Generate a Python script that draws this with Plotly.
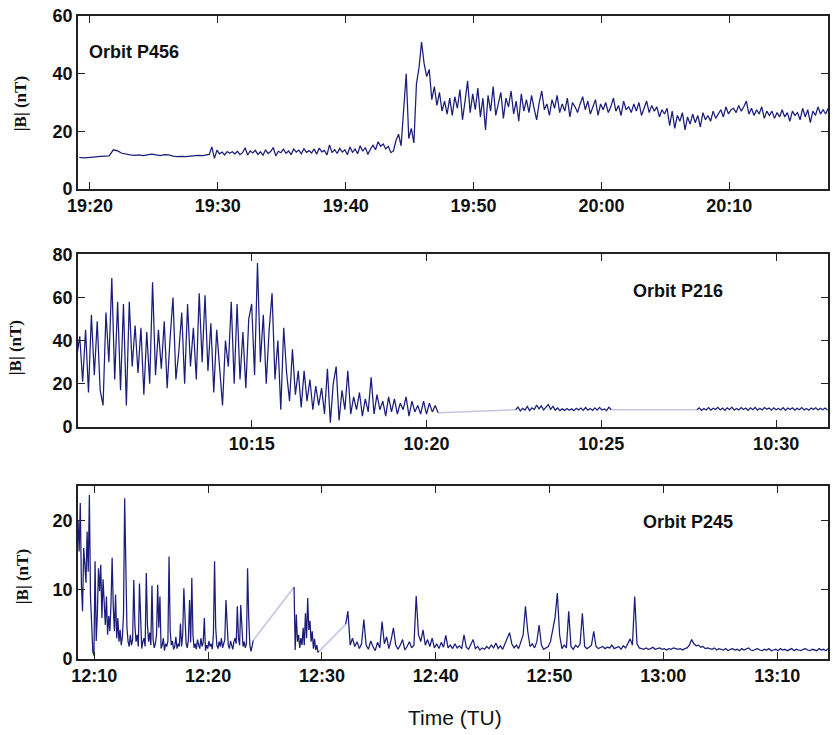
import numpy as np
import pandas as pd
import plotly.graph_objects as go

DAY = "2000-01-01 "

# ---------------- Orbit P456 (|B|, nT) ----------------
p456_a_start, p456_a_step = "19:19:10", 20
p456_a = [11.0, 10.8, 10.9, 11.1, 11.2, 11.3, 11.4, 11.5, 13.6, 13.2, 12.4, 12.0, 11.8, 11.7, 11.8,
          11.6, 11.9, 12.1, 11.8, 11.6, 11.9, 11.8, 11.4, 11.2, 11.3, 11.2, 11.4, 11.6, 11.7, 11.6, 11.8]
p456_b_start, p456_b_step = "19:29:20", 12
p456_b = [
    12.0, 14.6, 10.6, 13.5, 12.2,  12.8, 11.8, 13.0, 12.4, 12.9,  12.2, 13.1, 11.9, 12.6, 14.3,
    11.8, 13.2, 12.5, 13.4, 12.0,  12.9, 11.7, 13.6, 12.3, 13.0,  14.4, 11.5, 13.1, 12.6, 13.8,
    12.4, 13.2, 11.9, 13.9, 12.8,  13.5, 12.2, 14.0, 12.7, 13.3,  12.5, 13.9, 12.1, 14.2, 12.9,
    13.4, 11.8, 15.3, 12.6, 13.7,  12.3, 14.1, 12.8, 13.6, 11.9,  14.6, 12.7, 13.9, 12.2, 15.0,
    13.1, 14.4, 12.0, 13.8, 15.2,  13.6, 16.4, 14.8, 15.6, 13.9,  14.8, 12.6, 13.2, 16.8, 19.0,
    15.0, 29.0, 40.0, 17.5, 21.0,  16.0, 36.5, 42.0, 51.0, 43.5,  39.0, 41.5, 31.0, 35.5, 29.0,
    33.5, 27.0, 30.5, 26.0, 31.5,  25.5, 32.0, 28.0, 34.5, 24.0,  30.5, 37.5, 26.5, 33.0, 27.5,
    35.0, 25.0, 31.5, 20.5, 32.5,  27.0, 35.5, 25.5, 30.0, 33.5,  24.5, 31.5, 28.5, 34.0, 26.0,
    30.5, 23.5, 33.0, 27.0, 31.0,  26.5, 32.5, 28.0, 24.0, 30.0,  34.0, 27.5, 29.5, 25.5, 31.0,
    28.0, 32.5, 26.5, 29.5, 27.0,  31.5, 25.0, 30.0, 28.5, 26.5,  29.5, 32.0, 27.5, 30.5, 26.0,
    28.5, 31.0, 25.5, 29.5, 27.5,  30.0, 26.5, 28.5, 31.5, 27.0,  29.0, 25.5, 30.5, 27.5, 28.5,
    26.5, 29.5, 27.0, 30.0, 25.5,  28.0, 30.5, 26.5, 29.0, 27.0,  28.5, 25.0, 27.5, 26.0, 28.0,
    22.0, 27.0, 21.0, 25.5, 23.5,  26.5, 20.5, 25.0, 22.5, 26.0,  23.0, 25.5, 21.5, 26.5, 24.0,
    25.5, 23.5, 27.0, 24.5, 26.0,  27.5, 25.0, 28.5, 26.0, 27.5,  28.0, 26.5, 29.0, 27.0, 28.5,
    30.5, 26.0, 28.0, 25.5, 27.5,  26.0, 28.5, 24.5, 27.0, 25.5,  27.0, 24.5, 26.5, 25.0, 27.5,
    25.0, 26.5, 23.5, 27.0, 25.5,  26.5, 24.0, 28.0, 25.0, 27.5,  23.0, 27.0, 25.5, 28.5, 26.0,
    27.5, 26.0, 28.0]

# ---------------- Orbit P216 ----------------
p216_a_start, p216_a_step = "10:10:00", 5
p216_a = [
    33, 42, 21, 45, 16, 52, 24, 49, 17, 10, 53, 30,
    69, 22, 58, 17, 57, 10, 58, 28, 47, 25, 46, 15,
    44, 20, 67, 24, 45, 27, 49, 18, 41, 60, 22, 35,
    53, 20, 57, 28, 46, 22, 62, 30, 61, 26, 48, 16,
    45, 25, 10, 40, 28, 58, 20, 57, 22, 44, 18, 50,
    57, 24, 76, 30, 52, 20, 45, 62, 22, 40, 8, 46,
    25, 12, 36, 15, 26, 9, 26, 12, 22, 8, 19, 10,
    18, 6, 27, 2, 20, 28, 3, 17, 8, 26, 6, 14,
    8, 16, 5, 13, 7, 23, 6, 15, 8, 12, 5, 14,
    7, 13, 6, 11, 8, 14, 5, 12, 7, 10, 6, 12,
    6, 11, 7, 10, 6.6]
p216_b_start, p216_b_step = "10:22:33", 4
p216_b = [8.0, 9.2, 7.4, 8.6, 7.8, 9.5, 7.6, 8.9, 8.1, 10.2, 8.4, 9.8, 7.9, 9.0, 10.4, 8.2, 9.6,
          7.8, 8.8, 7.6, 8.4, 7.7, 8.6, 7.8, 8.5, 7.6, 8.7, 7.9, 8.8, 7.7, 9.0, 7.8, 8.6, 7.7,
          8.9, 7.8, 9.1, 7.9, 8.4, 7.6, 9.2, 8.0]
p216_c_start, p216_c_step = "10:27:44", 4
p216_c = [8.0, 8.9, 7.7, 8.6, 7.9, 9.0, 7.8, 8.7, 8.1, 9.1, 7.9, 8.8, 7.7, 8.9, 8.0, 9.2, 7.8,
          8.6, 7.9, 9.0, 8.1, 8.8, 7.7, 8.9, 8.0, 9.1, 7.8, 8.7, 7.9, 9.0, 8.2, 8.8, 7.8, 8.9,
          8.0, 8.6, 7.9, 9.0, 7.7, 8.8, 8.1, 8.9, 7.8, 8.7, 8.0, 9.0, 7.9, 8.6, 7.8, 8.8, 8.1,
          8.9, 7.9, 8.7, 8.0, 8.8, 7.9]

# ---------------- Orbit P245 ----------------
p245_a_start, p245_a_step = "12:08:34", 6
p245_a = [
    20, 15.5, 22.5, 10.7, 6.9, 16, 13.6, 11, 18.4, 12.6,
    23.7, 8.8, 5, 1.1, 0.5, 14.1, 2.6, 6.5, 13.1, 9.8,
    13.6, 5.9, 11.5, 7.8, 4.9, 9.0, 3.5, 6.2, 4.0, 8.0,
    14.6, 7.5, 4.0, 9.3, 3.0, 5.9, 2.5, 4.2, 2.0, 3.2,
    6.5, 23.2, 10.7, 4.5, 2.5, 1.8, 3.5, 2.0, 2.8, 11.4,
    4.9, 2.5, 3.5, 1.8, 10.9, 4.0, 1.5, 2.5, 3.0, 1.8,
    12.4, 5.0, 2.5, 3.8, 2.0, 10.6, 2.8, 1.6, 2.2, 3.5,
    10.7, 4.5, 9.0, 1.5, 2.0, 3.0, 1.2, 2.2, 1.8, 2.6,
    14.8, 4.0, 2.0, 2.6, 1.4, 1.8, 3.2, 1.5, 2.2, 1.8,
    5.1, 1.8, 3.5, 10.2, 4.5, 2.2, 1.6, 2.8, 8.5, 2.4,
    11.7, 3.5, 1.6, 2.2, 1.4, 2.8, 2.0, 1.5, 3.0, 1.8,
    2.4, 5.9, 1.2, 2.0, 1.5, 2.6, 1.8, 2.2, 1.4, 3.6,
    14.1, 4.5, 2.0, 1.5, 2.5, 1.8, 3.0, 1.6, 2.2, 2.8,
    8.5, 4.2, 2.0, 1.5, 2.6, 2.0, 1.4, 2.5, 3.0, 2.2,
    7.6, 3.0, 2.0, 7.8, 3.5, 1.8, 2.5, 1.6, 2.2, 13.1,
    6.0, 2.0, 1.1, 2.0, 2.7]
p245_b_start, p245_b_step = "12:27:33", 6
p245_b = [10.4, 1.3, 6.4, 2.5, 3.5, 1.6, 3.0, 2.0, 4.5, 2.0, 6.6, 3.0, 8.8, 4.2, 5.5, 2.5,
          4.0, 1.5, 2.9, 1.3, 2.0, 1.0, 1.1]
p245_c_start, p245_c_step = "12:32:05", 12
p245_c = [
    5.0, 6.9, 2.0, 3.0, 1.8, 2.5, 1.5, 2.2, 5.7, 2.0,
    1.4, 2.6, 1.8, 1.2, 2.4, 1.6, 5.4, 2.2, 3.2, 1.5,
    2.8, 4.5, 2.0, 1.4, 2.0, 2.8, 1.3, 1.8, 2.5, 1.6,
    2.0, 9.1, 3.5, 2.5, 4.2, 2.0, 2.8, 1.8, 3.0, 1.6,
    2.2, 1.5, 2.4, 1.7, 3.4, 1.6, 2.0, 1.5, 2.2, 1.6,
    1.9, 1.5, 3.5, 1.7, 1.4, 2.0, 2.8, 1.5, 1.8, 1.3,
    1.6, 1.4, 1.8, 1.5, 2.0, 1.6, 2.3, 1.5, 1.9, 1.4,
    2.2, 3.0, 3.8, 2.2, 1.6, 2.0, 1.5, 2.5, 3.5, 7.6,
    4.0, 1.8, 2.2, 1.6, 2.5, 4.9, 2.0, 1.4, 1.6, 1.8,
    2.5, 4.0, 6.0, 9.5, 3.5, 1.5, 2.0, 1.6, 6.9, 1.8,
    1.4, 2.0, 1.7, 2.2, 6.6, 1.8, 1.5, 1.7, 2.0, 4.0,
    1.8, 1.5, 1.6, 1.8, 1.5, 1.7, 1.6, 2.0, 1.5, 1.6,
    1.8, 1.4, 1.9, 1.6, 2.2, 2.9, 2.0, 9.0, 2.2, 1.6,
    1.5, 1.4, 1.6, 1.4, 1.5, 1.7, 1.4, 1.5, 1.6, 1.4,
    1.5, 1.3, 1.5, 1.4, 1.6, 1.5, 1.4, 1.5, 1.3, 1.5,
    1.6, 2.0, 2.8, 2.2, 1.9, 2.0, 1.7, 1.8, 1.5, 1.6,
    1.5, 1.4, 1.6, 1.3, 1.5, 1.4, 1.3, 1.5, 1.2, 1.4,
    1.5, 1.3, 1.4, 1.2, 1.5, 1.3, 1.4, 1.6, 1.3, 1.2,
    1.4, 1.5, 1.3, 1.2, 1.4, 1.3, 1.5, 1.2, 1.3, 1.4,
    1.2, 1.5, 1.3, 1.4, 1.2, 1.3, 1.5, 1.2, 1.4, 1.3,
    1.2, 1.4, 1.5, 1.3, 1.2, 1.4, 1.3, 1.2, 1.5, 1.3,
    1.4, 1.2, 1.5]

# axis settings (ranges and ticks)
x_ranges = [("19:19:04", "20:17:43"), ("10:10:02", "10:31:29"), ("12:08:34", "13:14:28")]
x_tick0 = ["19:20", "10:15", "12:10"]
x_dtick_min = [10, 5, 10]
y_ranges = [(0, 60), (0, 80), (0, 25)]
y_ticks = [[0, 20, 40, 60], [0, 20, 40, 60, 80], [0, 10, 20]]
orbit_labels = ["Orbit P456", "Orbit P216", "Orbit P245"]
y_title = "|B| (nT)"
x_title = "Time (TU)"

LINE = "#1c1c7a"
GAP = "#c6c6e2"


def seg(start, step, vals):
    t = pd.Timestamp(DAY + start) + pd.to_timedelta(np.arange(len(vals)) * step, unit="s")
    return [s.strftime("%Y-%m-%d %H:%M:%S") for s in t], list(vals)


panels = [
    [seg(p456_a_start, p456_a_step, p456_a), seg(p456_b_start, p456_b_step, p456_b)],
    [seg(p216_a_start, p216_a_step, p216_a), seg(p216_b_start, p216_b_step, p216_b),
     seg(p216_c_start, p216_c_step, p216_c)],
    [seg(p245_a_start, p245_a_step, p245_a), seg(p245_b_start, p245_b_step, p245_b),
     seg(p245_c_start, p245_c_step, p245_c)],
]
contiguous = [True, False, False]

fig = go.Figure()
for k, segs in enumerate(panels):
    xa = "x" if k == 0 else f"x{k+1}"
    ya = "y" if k == 0 else f"y{k+1}"
    mx, my, gx, gy = [], [], [], []
    for j, (tx, vy) in enumerate(segs):
        if j > 0 and not contiguous[k]:
            mx.append(None); my.append(None)
            ptx, pvy = segs[j - 1]
            gx += [ptx[-1], tx[0], None]
            gy += [pvy[-1], vy[0], None]
        mx += tx; my += vy
    if gx:
        fig.add_trace(go.Scatter(x=gx, y=gy, mode="lines", line=dict(color=GAP, width=1.6),
                                 xaxis=xa, yaxis=ya, showlegend=False, hoverinfo="skip"))
    fig.add_trace(go.Scatter(x=mx, y=my, mode="lines", line=dict(color=LINE, width=1.25),
                             xaxis=xa, yaxis=ya, showlegend=False))

# layout geometry (pixels -> paper)
L, R, T, B = 78, 3, 16, 76
W, H = 833, 735
ph = H - T - B
pw = W - L - R
def py(yp):
    return (H - B - yp) / ph
def px(xp):
    return (xp - L) / pw

y_domains = [(py(189), 1.0), (py(427), py(254.3)), (0.0, py(485.7))]

tickfont = dict(family="Liberation Sans, Arial", size=18, color="#111", weight="bold")
layout = dict(width=W, height=H, margin=dict(l=L, r=R, t=T, b=B),
              paper_bgcolor="white", plot_bgcolor="white", showlegend=False)
for k in range(3):
    xn = "xaxis" if k == 0 else f"xaxis{k+1}"
    yn = "yaxis" if k == 0 else f"yaxis{k+1}"
    ya = "y" if k == 0 else f"y{k+1}"
    xa = "x" if k == 0 else f"x{k+1}"
    layout[xn] = dict(type="date", domain=[0, 1], anchor=ya,
                      range=[DAY + x_ranges[k][0], DAY + x_ranges[k][1]],
                      tick0=DAY + x_tick0[k], dtick=x_dtick_min[k] * 60000, tickformat="%H:%M",
                      ticks="inside", ticklen=7, tickwidth=1.3, tickcolor="#222",
                      showline=True, linecolor="#222", linewidth=1.6, mirror="ticks",
                      showgrid=False, zeroline=False, tickfont=tickfont)
    layout[yn] = dict(domain=list(y_domains[k]), anchor=xa, range=list(y_ranges[k]),
                      tickvals=y_ticks[k], ticks="inside", ticklen=7, tickwidth=1.3,
                      tickcolor="#222", showline=True, linecolor="#222", linewidth=1.6,
                      mirror="ticks", showgrid=False, zeroline=False, tickfont=tickfont)
fig.update_layout(**layout)

ann = []
orbit_pos = [(87, 52, "left"), (680, 291, "center"), (690, 522, "center")]
for k, (xp, yp, al) in enumerate(orbit_pos):
    ann.append(dict(text=orbit_labels[k], xref="paper", yref="paper", x=px(xp), y=py(yp),
                    xanchor=al, yanchor="middle", showarrow=False,
                    font=dict(family="Liberation Sans, Arial", size=18, color="#111", weight="bold")))
ytitle_pos = [(20, 104), (15, 348), (22, 577)]
for (xp, yp) in ytitle_pos:
    ann.append(dict(text=y_title, xref="paper", yref="paper", x=px(xp), y=py(yp),
                    xanchor="center", yanchor="middle", textangle=-90, showarrow=False,
                    font=dict(family="Liberation Serif, Times New Roman", size=17, color="#111",
                              weight="bold")))
ann.append(dict(text=x_title, xref="paper", yref="paper", x=px(456), y=py(717),
                xanchor="center", yanchor="middle", showarrow=False,
                font=dict(family="Liberation Sans, Arial", size=21, color="#111")))
fig.update_layout(annotations=ann)

fig.write_html("out.html")
